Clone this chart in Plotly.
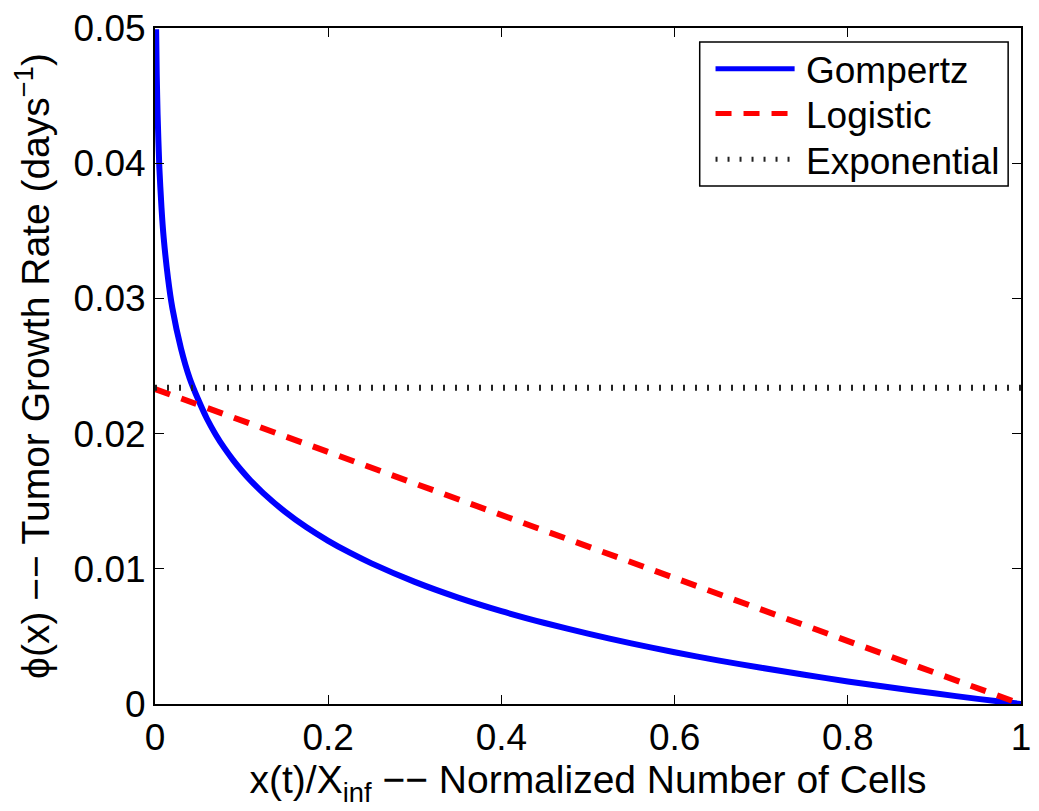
import plotly.graph_objects as go

# Data
gomp_x = [0.0013, 0.002, 0.003, 0.005, 0.0075, 0.01, 0.015, 0.02, 0.03, 0.04, 0.05,
          0.06, 0.07, 0.08, 0.09, 0.10, 0.11, 0.125, 0.15, 0.175, 0.20, 0.225, 0.25, 0.30,
          0.35, 0.40, 0.45, 0.50, 0.55, 0.60, 0.65, 0.70, 0.75, 0.80, 0.85, 0.90, 0.95, 1.00]
gomp_y = [0.0499, 0.0466, 0.0436, 0.0397, 0.0367, 0.0345, 0.0315, 0.0293, 0.0263, 0.0241, 0.0225,
          0.0211, 0.01994, 0.01894, 0.01806, 0.01727, 0.01655, 0.0156, 0.01423, 0.01307, 0.01207,
          0.01119, 0.0104, 0.00903, 0.00787, 0.00687, 0.00599, 0.0052, 0.00448, 0.00383, 0.00323,
          0.00268, 0.00216, 0.00167, 0.00122, 0.00079, 0.00038, 0.0]
logi_x = [0.0, 1.0]
logi_y = [0.0233, 0.0]
expo_x = [0.0, 1.0]
expo_y = [0.0234, 0.0234]

series_names = ["Gompertz", "Logistic", "Exponential"]
x_ticks = [0, 0.2, 0.4, 0.6, 0.8, 1]
x_tick_labels = ["0", "0.2", "0.4", "0.6", "0.8", "1"]
y_ticks = [0, 0.01, 0.02, 0.03, 0.04, 0.05]
y_tick_labels = ["0", "0.01", "0.02", "0.03", "0.04", "0.05"]

FONT = "Liberation Sans, Arial, sans-serif"
styles = [dict(color="#0000ff", width=6, dash="solid"),
          dict(color="#ff0000", width=6, dash="16px,12px"),
          dict(color="#222222", width=6, dash="2px,10px")]

fig = go.Figure()
fig.add_trace(go.Scatter(x=gomp_x, y=gomp_y, mode="lines", name=series_names[0],
                         line=dict(color=styles[0]["color"], width=styles[0]["width"], dash=styles[0]["dash"],
                                   shape="spline", smoothing=0.6)))
fig.add_trace(go.Scatter(x=logi_x, y=logi_y, mode="lines", name=series_names[1],
                         line=dict(color=styles[1]["color"], width=styles[1]["width"], dash=styles[1]["dash"])))
fig.add_trace(go.Scatter(x=expo_x, y=expo_y, mode="lines", name=series_names[2],
                         line=dict(color=styles[2]["color"], width=styles[2]["width"], dash=styles[2]["dash"])))

# Custom MATLAB-style legend
W, H = 876.0, 680.0
def px(xp): return (xp - 155) / W
def py(yp): return (704 - yp) / H

shapes = [dict(type="rect", xref="paper", yref="paper", x0=px(706), x1=px(1018),
               y0=py(183), y1=py(38), line=dict(color="black", width=1.5),
               fillcolor="white", layer="above")]
annotations = []
rows = [65, 110, 156]
for name, st, r in zip(series_names, styles, rows):
    shapes.append(dict(type="line", xref="paper", yref="paper", x0=px(722), x1=px(802),
                       y0=py(r), y1=py(r),
                       line=dict(color=st["color"], width=st["width"] - 1, dash=st["dash"]),
                       layer="above"))
    annotations.append(dict(text=name, xref="paper", yref="paper", x=px(811), y=py(r + 2),
                            xanchor="left", yanchor="middle", showarrow=False,
                            font=dict(family=FONT, size=37, color="black")))

fig.update_layout(
    width=1039, height=811,
    margin=dict(l=155, r=8, t=24, b=107),
    paper_bgcolor="white", plot_bgcolor="white",
    showlegend=False,
    font=dict(family=FONT, color="black"),
    shapes=shapes, annotations=annotations,
)
fig.update_xaxes(range=[0, 1], tickvals=x_ticks, ticktext=x_tick_labels,
                 showgrid=False, zeroline=False, showline=True, linecolor="black", linewidth=2,
                 mirror="ticks", ticks="inside", ticklen=9, tickwidth=1, tickcolor="black",
                 tickfont=dict(family=FONT, size=37), ticklabeloverflow="allow",
                 title=dict(text="x(t)/X<sub>inf</sub> −− Normalized Number of Cells",
                            font=dict(family=FONT, size=39), standoff=0))
fig.update_yaxes(range=[0, 0.05], tickvals=y_ticks, ticktext=y_tick_labels,
                 showgrid=False, zeroline=False, showline=True, linecolor="black", linewidth=2,
                 mirror="ticks", ticks="inside", ticklen=9, tickwidth=1, tickcolor="black",
                 tickfont=dict(family=FONT, size=37), ticklabeloverflow="allow",
                 title=dict(text="ϕ(x) −− Tumor Growth Rate (days<sup>−1</sup>)",
                            font=dict(family=FONT, size=39), standoff=12))

fig.write_html("out.html")
